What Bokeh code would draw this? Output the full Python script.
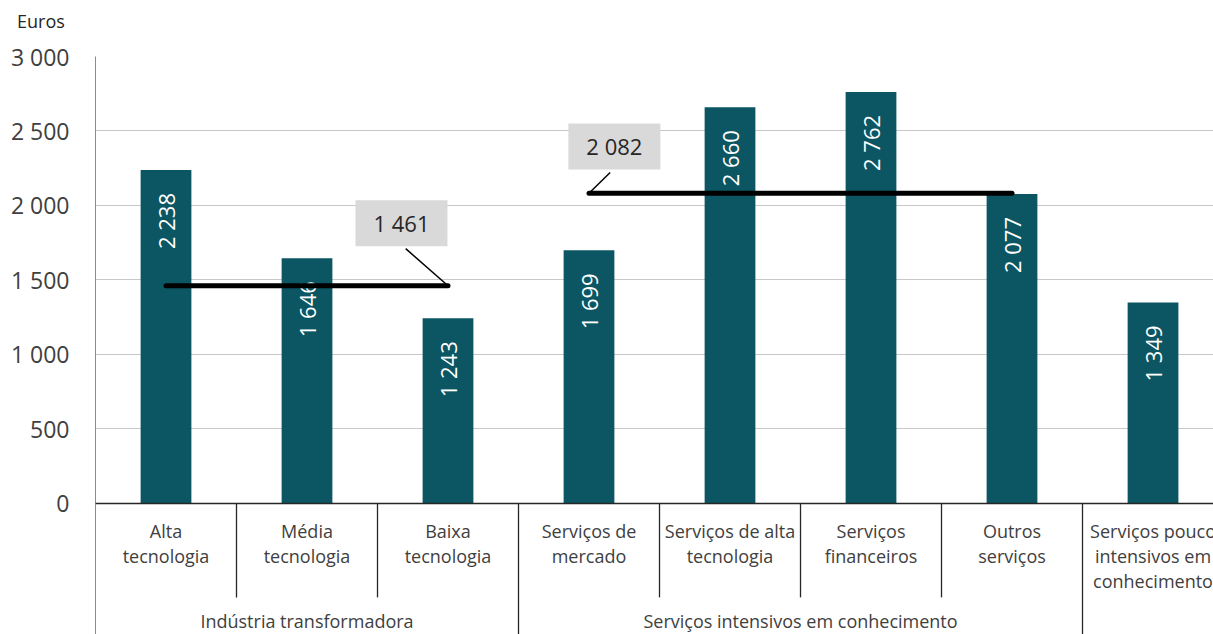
import math
from bokeh.plotting import figure
from bokeh.models import Range1d, FixedTicker, Span, ColumnDataSource, Div
from bokeh.layouts import column
from bokeh.core.properties import value
from bokeh.embed import file_html
from bokeh.resources import INLINE

# ---- data ----
categories = ["Alta\ntecnologia", "Média\ntecnologia", "Baixa\ntecnologia",
              "Serviços de\nmercado", "Serviços de alta\ntecnologia", "Serviços\nfinanceiros",
              "Outros\nserviços", "Serviços pouco\nintensivos em\nconhecimento"]
values = [2238, 1646, 1243, 1699, 2660, 2762, 2077, 1349]
groups = ["Indústria transformadora", "Serviços intensivos em conhecimento"]
group_spans = [(0, 3), (3, 7)]          # category index ranges of each group
averages = [1461, 2082]
yticks = [0, 500, 1000, 1500, 2000, 2500, 3000]
unit_label = "Euros"

FONT = "Open Sans"
BAR = "#0B5662"
TXT = "#404040"

def fmt(v):
    return f"{v:,}".replace(",", " ")

n = len(categories)
xs = [i + 0.5 for i in range(n)]

head = Div(text=unit_label, width=1213, height=30,
           styles={"font-family": FONT, "font-size": "18px", "color": "#262626",
                   "padding-left": "17px", "padding-top": "9px", "line-height": "24px",
                   "margin": "0px", "box-sizing": "border-box"})

p = figure(width=1213, height=604, output_backend="svg", toolbar_location=None,
           x_range=Range1d(0, 7.929), y_range=Range1d(-880, 3000),
           x_axis_type=None, min_border_left=95, min_border_right=0,
           min_border_top=26, min_border_bottom=0)
p.outline_line_color = None
p.background_fill_color = "white"

# y axis
ax = p.yaxis[0]
ax.ticker = FixedTicker(ticks=yticks)
ax.major_label_overrides = {t: fmt(t) for t in yticks}
ax.major_tick_line_color = None
ax.minor_tick_line_color = None
ax.axis_line_color = "#8C8C8C"
ax.major_label_text_font = FONT
ax.major_label_text_font_size = "23px"
ax.major_label_text_color = TXT
ax.major_label_standoff = 20

p.ygrid.ticker = FixedTicker(ticks=yticks[1:])
p.ygrid.grid_line_color = "#C8C8C8"
p.xgrid.visible = False

# bars
src = ColumnDataSource(dict(x=xs, top=values, lab=[fmt(v) for v in values]))
p.vbar(x="x", top="top", width=0.36, bottom=0, source=src, fill_color=BAR, line_color=None)
p.text(x="x", y="top", text="lab", source=src, angle=math.pi / 2,
       text_align="right", text_baseline="middle", y_offset=23,
       text_font=value(FONT), text_font_size="22px", text_color="white")

# zero axis line
p.add_layout(Span(location=0, dimension="width", line_color="#262626", line_width=1.5))

# separators
ends = set([g[0] for g in group_spans] + [g[1] for g in group_spans])
inner = [i for i in range(1, n) if i not in ends]
outer = sorted(ends - {0})
p.segment(x0=inner, y0=[0] * len(inner), x1=inner, y1=[-631] * len(inner),
          line_color="#262626", line_width=1.3)
p.segment(x0=outer, y0=[0] * len(outer), x1=outer, y1=[-880] * len(outer),
          line_color="#262626", line_width=1.3)

# category labels
p.text(x=xs, y=[0] * n, text=categories, text_align="center", text_baseline="top",
       y_offset=16, text_font=value(FONT), text_font_size="18px", text_color=TXT,
       text_line_height=1.04)
# group labels
gx = [(a + b) / 2 for a, b in group_spans]
p.text(x=gx, y=[0] * len(gx), text=groups, text_align="center", text_baseline="middle",
       y_offset=118, text_font=value(FONT), text_font_size="18px", text_color=TXT)

# average lines
for (a, b), avg in zip(group_spans, averages):
    p.segment(x0=[a + 0.5], y0=[avg], x1=[b - 0.5], y1=[avg],
              line_color="black", line_width=5, line_cap="round")

# callouts
call_pos = [(2.17, 1880, 2.2, 1710, 2.5, 1461), (3.68, 2396, 3.65, 2221, 3.5, 2082)]
for avg, (cx, cy, lx0, ly0, lx1, ly1) in zip(averages, call_pos):
    p.segment(x0=[lx0], y0=[ly0], x1=[lx1], y1=[ly1], line_color="black", line_width=1.5)
    p.rect(x=[cx], y=[cy], width=92, height=46, width_units="screen", height_units="screen",
           fill_color="#D9D9D9", line_color=None)
    p.text(x=[cx], y=[cy], text=[fmt(avg)], text_align="center", text_baseline="middle",
           text_font=value(FONT), text_font_size="22px", text_color="#262626")

layout = column(head, p, spacing=0)
open("out.html", "w").write(file_html(layout, INLINE))
